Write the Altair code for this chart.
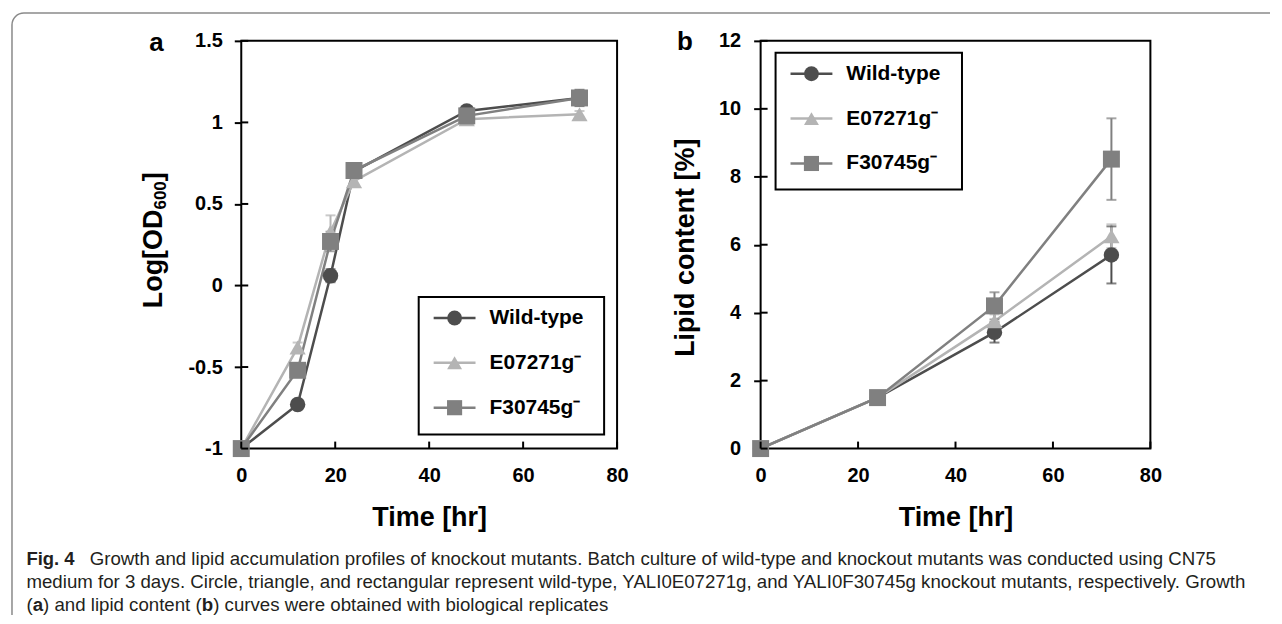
import altair as alt
import pandas as pd

# ---------------- data ----------------
series = ["Wild-type", "E07271g\u207b", "F30745g\u207b"]
colors = ["#4d4d4d", "#b4b4b4", "#808080"]
shapes = ["circle", "triangle-up", "square"]
marker_sizes = [240, 290, 360]
legend_sizes = [220, 230, 190]

x_ticks = [0, 20, 40, 60, 80]

# Panel a: Log[OD600]
time_a = [0, 12, 19, 24, 48, 72]
od_wt = [-1.0, -0.73, 0.06, 0.70, 1.07, 1.15]
od_e = [-1.0, -0.38, 0.33, 0.64, 1.02, 1.05]
od_f = [-1.0, -0.52, 0.27, 0.705, 1.04, 1.15]
od_err_wt = [0.0, 0.02, 0.04, 0.02, 0.02, 0.05]
od_err_e = [0.0, 0.03, 0.10, 0.02, 0.02, 0.02]
od_err_f = [0.0, 0.02, 0.06, 0.02, 0.02, 0.02]
y_ticks_a = [-1, -0.5, 0, 0.5, 1, 1.5]

# Panel b: lipid content [%]
time_b = [0, 24, 48, 72]
lip_wt = [0.0, 1.5, 3.42, 5.7]
lip_e = [0.0, 1.5, 3.75, 6.25]
lip_f = [0.0, 1.5, 4.2, 8.52]
lip_err_wt = [0.0, 0.05, 0.3, 0.84]
lip_err_e = [0.0, 0.05, 0.2, 0.35]
lip_err_f = [0.0, 0.05, 0.4, 1.2]
y_ticks_b = [0, 2, 4, 6, 8, 10, 12]

ytitle_a = ["Log[OD", "600", "]"]
caption_1a = "Fig. 4"
caption_1b = ("Growth and lipid accumulation profiles of knockout mutants. Batch culture of "
              "wild-type and knockout mutants was conducted using CN75")
caption_2 = ("medium for 3 days. Circle, triangle, and rectangular represent wild-type, "
             "YALI0E07271g, and YALI0F30745g knockout mutants, respectively. Growth")
caption_3 = ["(", "a", ") and lipid content (", "b", ") curves were obtained with biological replicates"]

FONT = "Liberation Sans"

# Helvetica/Arial advance widths (1/1000 em) for text layout
_W = {" ": 278, "(": 333, ")": 333, ",": 278, "-": 333, ".": 278, "%": 889, "[": 278, "]": 278}
_W.update({d: 556 for d in "0123456789"})
_W.update(dict(zip("ABCDEFGHIJKLMNOPQRSTUVWXYZ",
                   [667, 667, 722, 722, 667, 611, 778, 722, 278, 500, 667, 556, 833, 722, 778, 667,
                    778, 722, 667, 611, 722, 667, 944, 667, 667, 611])))
_W.update(dict(zip("abcdefghijklmnopqrstuvwxyz",
                   [556, 556, 500, 556, 556, 278, 556, 556, 222, 222, 500, 222, 833, 556, 556, 556,
                    556, 333, 500, 278, 556, 500, 722, 500, 500, 500])))
_WB = {"a": 556, "b": 611, "L": 611, "o": 611, "g": 611, "[": 333, "]": 333, "O": 778, "D": 722,
       "6": 556, "0": 556}


def em_width(s, bold=False):
    return sum((_WB.get(c, _W.get(c, 556)) if bold else _W.get(c, 556)) for c in s) / 1000.0


# font size so the caption lines span the same width as in the figure
CAP_FS = min(1165 / em_width(caption_1b), 1228 / em_width(caption_2))


def long_df(times, vals, errs):
    rows = []
    for s, v_list, e_list in zip(series, vals, errs):
        for t, v, e in zip(times, v_list, e_list):
            rows.append({"s": s, "t": t, "v": v, "lo": v - e, "hi": v + e})
    return pd.DataFrame(rows)


df_a = long_df(time_a, [od_wt, od_e, od_f], [od_err_wt, od_err_e, od_err_f])
df_b = long_df(time_b, [lip_wt, lip_e, lip_f], [lip_err_wt, lip_err_e, lip_err_f])


def txt(s, x, y, size, bold=False, font=FONT, align="left", baseline="alphabetic", color="black", angle=0):
    return alt.Chart(pd.DataFrame({"s": [s]})).mark_text(
        align=align, baseline=baseline, fontSize=size, angle=angle,
        fontWeight="bold" if bold else "normal", font=font, color=color
    ).encode(x=alt.value(x), y=alt.value(y), text="s:N")


def panel(df, ydom, yticks, width, height, ytitle, tx, ty, lpad, box, rows, extras, label_expr=None):
    xsc = alt.Scale(domain=[0, 80], nice=False, zero=False)
    ysc = alt.Scale(domain=ydom, nice=False, zero=False)
    xaxis = alt.Axis(values=x_ticks, title="Time [hr]", tickSize=0, ticks=False, labelPadding=17,
                     labelFlush=False, titleY=69, titleBaseline="middle")
    ykw = dict(values=yticks, tickSize=7, labelPadding=lpad)
    if ytitle:
        ykw.update(title=ytitle, titleX=tx, titleY=ty, titleAngle=270, titleAlign="center",
                   titleBaseline="middle")
    else:
        ykw["title"] = None
    if label_expr:
        ykw["labelExpr"] = label_expr
    yaxis = alt.Axis(**ykw)
    X = alt.X("t:Q", scale=xsc, axis=xaxis)

    def Y(f):
        return alt.Y(f"{f}:Q", scale=ysc, axis=yaxis)

    color = alt.Color("s:N", scale=alt.Scale(domain=series, range=colors), legend=None)
    shape = alt.Shape("s:N", scale=alt.Scale(domain=series, range=shapes), legend=None)
    size = alt.Size("s:N", scale=alt.Scale(domain=series, range=marker_sizes), legend=None)

    base = alt.Chart(df)
    lines = base.mark_line(strokeWidth=2.5).encode(x=X, y=Y("v"), color=color, order="t:Q")
    ebar = base.mark_rule(strokeWidth=2).encode(x=X, y=Y("lo"), y2="hi:Q", color=color)
    cap_lo = base.mark_tick(orient="horizontal", size=10, thickness=2).encode(x=X, y=Y("lo"), color=color)
    cap_hi = base.mark_tick(orient="horizontal", size=10, thickness=2).encode(x=X, y=Y("hi"), color=color)
    pts = base.mark_point(filled=True, opacity=1).encode(x=X, y=Y("v"), color=color, shape=shape, size=size)
    ytick_in = alt.Chart(pd.DataFrame({"v": yticks})).mark_rule(color="black", strokeWidth=2).encode(
        y=Y("v"), x=alt.value(0), x2=alt.value(7))
    xtick_in = alt.Chart(pd.DataFrame({"t": x_ticks})).mark_rule(color="black", strokeWidth=2).encode(
        x=X, y=alt.value(height), y2=alt.value(height - 7))
    data_layer = alt.layer(lines, ebar, cap_lo, cap_hi, pts, ytick_in, xtick_in)

    bx0, by0, bx1, by1 = box
    ldf = pd.DataFrame({"s": series})
    ly = alt.Y("s:N", scale=alt.Scale(type="point", domain=series, range=rows, padding=0), axis=None)
    lsize = alt.Size("s:N", scale=alt.Scale(domain=series, range=legend_sizes), legend=None)
    lbox = alt.Chart(pd.DataFrame({"s": [0]})).mark_rect(fill="white", stroke="black", strokeWidth=2).encode(
        x=alt.value(bx0), x2=alt.value(bx1), y=alt.value(by0), y2=alt.value(by1))
    lrule = alt.Chart(ldf).mark_rule(strokeWidth=2.5).encode(
        x=alt.value(bx0 + 15), x2=alt.value(bx0 + 57), y=ly, color=color)
    lpts = alt.Chart(ldf).mark_point(filled=True, opacity=1).encode(
        x=alt.value(bx0 + 36), y=ly, color=color, shape=shape, size=lsize)
    ltext = alt.Chart(ldf).mark_text(align="left", baseline="middle", fontSize=21, fontWeight="bold",
                                     font=FONT, color="black").encode(
        x=alt.value(bx0 + 71), y=ly, text="s:N")
    legend_layer = alt.layer(lbox, lrule, lpts, ltext)

    return alt.layer(data_layer, legend_layer, *extras).resolve_scale(
        y="independent", size="independent").properties(width=width, height=height)


# decorations for panel a (coordinates relative to panel a's plot origin)
FRAME_PATH = "M0,604L0,12A12,12 0 0 1 12,0L1262,0"
frame = alt.Chart(pd.DataFrame({"s": [0]})).mark_point(
    shape=FRAME_PATH, size=4, filled=False, stroke="#8a8a8a", strokeWidth=1.5, opacity=1
).encode(x=alt.value(-230), y=alt.value(-28))

cap_col = "#231f20"
X0 = -215.5
l3 = [X0]
for i, piece in enumerate(caption_3[:-1]):
    l3.append(l3[-1] + em_width(piece, bold=(i % 2 == 1)) * CAP_FS)

# rotated y title of panel a with a real subscript
TFS, SFS = 27, 17
w_main = em_width(ytitle_a[0], True) * TFS
w_sub = em_width(ytitle_a[1], True) * SFS
w_end = em_width(ytitle_a[2], True) * TFS
t_start = 200 + (w_main + w_sub + w_end) / 2
ytitle_marks = [
    txt(ytitle_a[0], -88, t_start, TFS, bold=True, baseline="middle", angle=270),
    txt(ytitle_a[1], -80, t_start - w_main, SFS, bold=True, baseline="middle", angle=270),
    txt(ytitle_a[2], -88, t_start - w_main - w_sub, TFS, bold=True, baseline="middle", angle=270),
]

extras_a = [
    frame,
    txt("a", -85, 2, 26, bold=True, align="center", baseline="middle"),
    txt(caption_1a, X0, 526, 18.5, bold=True, color=cap_col),
    txt(caption_1b, -152, 526, CAP_FS, color=cap_col),
    txt(caption_2, X0, 549, CAP_FS, color=cap_col),
] + [
    txt(p, x, 572, CAP_FS, bold=(i % 2 == 1), color=cap_col)
    for i, (p, x) in enumerate(zip(caption_3, l3))
] + ytitle_marks
extras_b = [txt("b", -76, 1, 26, bold=True, align="center", baseline="middle")]

pa = panel(df_a, [-1, 1.5], y_ticks_a, 377, 409, None, 0, 0, 12,
           (178, 257, 364, 395), [278, 368], extras_a, label_expr="datum.value + ''")
pb = panel(df_b, [0, 12], y_ticks_b, 391, 409, "Lipid content [%]", -75, 207, 13,
           (15, 12, 202, 149), [33, 123], extras_b)

chart = alt.hconcat(pa, pb, spacing=144, bounds="flush",
                    padding={"left": 0, "top": 0, "right": 0, "bottom": 0}
                    ).configure_view(stroke="black", strokeWidth=2).configure_axis(
    domain=False, grid=False, tickColor="black", tickWidth=2,
    labelFont=FONT, labelFontSize=20, labelFontWeight="bold", labelColor="black",
    titleFont=FONT, titleFontSize=27, titleFontWeight="bold", titleColor="black"
)

chart.save("out.html", embed_options={"renderer": "svg", "actions": False})
